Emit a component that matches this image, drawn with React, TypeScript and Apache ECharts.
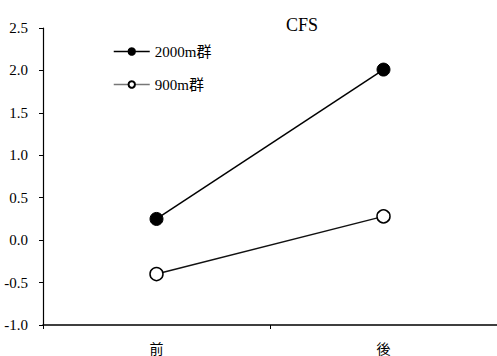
import React, { useEffect, useRef } from "react";
import * as echarts from "echarts";

const categories = ["前", "後"];
const group2000 = [0.25, 2.01];
const group900 = [-0.4, 0.28];
const yTicks = { min: -1.0, max: 2.5, interval: 0.5 };
const titleText = "CFS";
const seriesNames = ["2000m群", "900m群"];

const FONT = "'Liberation Serif', 'Noto Sans CJK JP', serif";

export default function App() {
  const ref = useRef<HTMLDivElement>(null);
  useEffect(() => {
    const chart = echarts.init(ref.current!, null, { renderer: "svg" });
    chart.setOption({
      animation: false,
      backgroundColor: "#ffffff",
      title: {
        text: titleText,
        left: 297,
        top: 11,
        textAlign: "center",
        textStyle: { fontFamily: FONT, fontSize: 18, fontWeight: "normal", color: "#000" },
      },
      legend: {
        orient: "vertical",
        left: 113,
        top: 44,
        padding: 0,
        itemWidth: 36,
        itemHeight: 8,
        itemGap: 18,
        textStyle: { fontFamily: FONT, fontSize: 15, color: "#000", padding: [2, 0, 0, 0] },
        data: [
          { name: seriesNames[0], lineStyle: { color: "#000", width: 1.5 } },
          { name: seriesNames[1], lineStyle: { color: "#777", width: 1.5 } },
        ],
      },
      grid: { left: 43, top: 28, width: 457, height: 297, containLabel: false },
      xAxis: {
        type: "category",
        data: categories,
        boundaryGap: true,
        axisLine: { onZero: false, lineStyle: { color: "#000", width: 1.5 } },
        axisTick: { show: true, inside: false, length: 4, lineStyle: { color: "#000" } },
        axisLabel: { fontFamily: FONT, fontSize: 14, color: "#000", margin: 17 },
        splitLine: { show: false },
      },
      yAxis: {
        type: "value",
        min: yTicks.min,
        max: yTicks.max,
        interval: yTicks.interval,
        axisLine: { show: true, lineStyle: { color: "#000", width: 1.2 } },
        axisTick: { show: true, inside: false, length: 4, lineStyle: { color: "#000" } },
        axisLabel: {
          fontFamily: FONT,
          fontSize: 15,
          color: "#000",
          margin: 15,
          padding: [3, 0, 0, 0],
          formatter: (v: number) => v.toFixed(1),
        },
        splitLine: { show: false },
      },
      series: [
        {
          name: seriesNames[0],
          type: "line",
          data: group2000,
          symbol: "circle",
          symbolSize: 13,
          lineStyle: { color: "#000", width: 1.5 },
          itemStyle: { color: "#000", borderColor: "#000", borderWidth: 1 },
        },
        {
          name: seriesNames[1],
          type: "line",
          data: group900,
          symbol: "circle",
          symbolSize: 13,
          lineStyle: { color: "#111", width: 1.5 },
          itemStyle: { color: "#fff", borderColor: "#000", borderWidth: 1.5 },
        },
      ],
    });
    return () => chart.dispose();
  }, []);
  return <div ref={ref} style={{ width: 497, height: 356, position: "absolute", left: 0, top: 0 }} />;
}
